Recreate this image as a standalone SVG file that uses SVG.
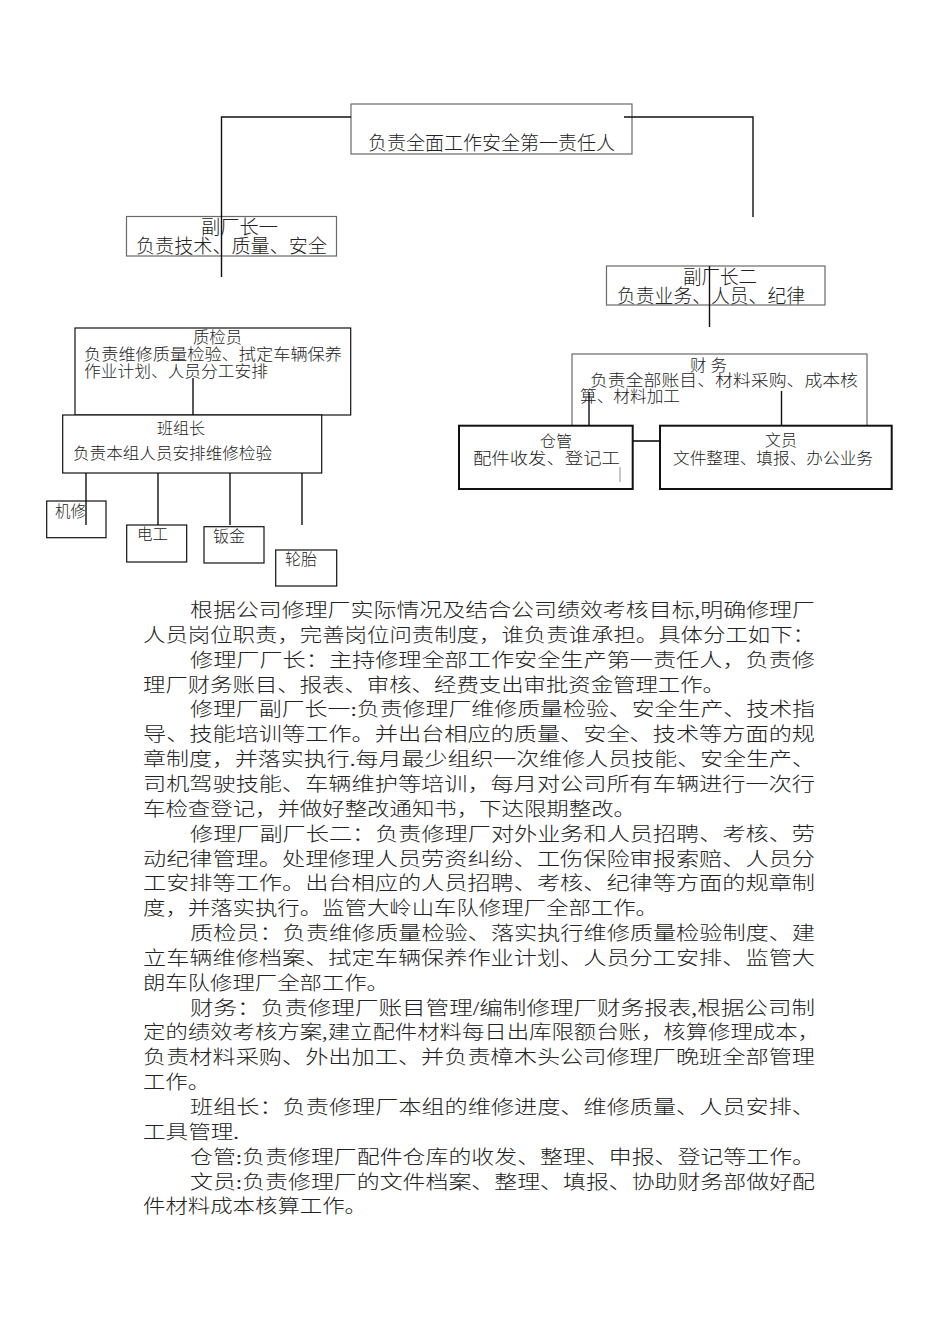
<svg xmlns="http://www.w3.org/2000/svg" width="950" height="1344" viewBox="0 0 950 1344">
<style>
text{font-family:"Liberation Serif","Noto Sans CJK SC",serif;fill:#222;font-weight:300;}
.t19{font-size:19px;}
.t16{font-size:16px;}
.p{font-size:19px;}
.bg{fill:#fff;stroke:#6a6a6a;stroke-width:1.2;}
.bk{fill:#fff;stroke:#111;stroke-width:1.2;}
.bt{fill:#fff;stroke:#111;stroke-width:2;}
.c{fill:none;stroke:#111;stroke-width:1.4;}
</style>
<rect width="950" height="1344" fill="#fff"/>
<g id="node-director">
<rect class="bg" x="351" y="104" width="281" height="50"/>
<text class="t19" x="368" y="150" textLength="247" lengthAdjust="spacingAndGlyphs">负责全面工作安全第一责任人</text>
</g>
<g id="node-deputy1">
<rect class="bg" x="126.5" y="216.5" width="210" height="39.5"/>
<text class="t19" x="201" y="234" textLength="77" lengthAdjust="spacingAndGlyphs">副厂长一</text>
<text class="t19" x="136" y="253" textLength="191" lengthAdjust="spacingAndGlyphs">负责技术、质量、安全</text>
</g>
<g id="node-deputy2">
<rect class="bg" x="606.5" y="266" width="218.5" height="39"/>
<text class="t19" x="683" y="284" textLength="74" lengthAdjust="spacingAndGlyphs">副厂长二</text>
<text class="t19" x="617" y="303" textLength="188" lengthAdjust="spacingAndGlyphs">负责业务、人员、纪律</text>
</g>
<g id="node-inspector">
<rect class="bk" x="75" y="328" width="275.7" height="87"/>
<text class="t16" x="193" y="343" textLength="49" lengthAdjust="spacingAndGlyphs">质检员</text>
<text class="t16" x="84" y="360" textLength="258" lengthAdjust="spacingAndGlyphs">负责维修质量检验、拭定车辆保养</text>
<text class="t16" x="84" y="377" textLength="184" lengthAdjust="spacingAndGlyphs">作业计划、人员分工安排</text>
</g>
<g id="node-leader">
<rect class="bk" x="62.7" y="415" width="259" height="58"/>
<text class="t16" x="157" y="434" textLength="48" lengthAdjust="spacingAndGlyphs">班组长</text>
<text class="t16" x="73" y="459" textLength="199" lengthAdjust="spacingAndGlyphs">负责本组人员安排维修检验</text>
</g>
<g id="node-jixiu">
<rect class="bk" x="46.7" y="501" width="59.3" height="36.7"/>
<text class="t16" x="55" y="517" textLength="31" lengthAdjust="spacingAndGlyphs">机修</text>
</g>
<g id="node-diangong">
<rect class="bk" x="126.7" y="525" width="60" height="37"/>
<text class="t16" x="137" y="540" textLength="31" lengthAdjust="spacingAndGlyphs">电工</text>
</g>
<g id="node-banjin">
<rect class="bk" x="204" y="526.7" width="60" height="36.3"/>
<text class="t16" x="213" y="542" textLength="32" lengthAdjust="spacingAndGlyphs">钣金</text>
</g>
<g id="node-luntai">
<rect class="bk" x="275.7" y="550" width="61" height="36"/>
<text class="t16" x="285" y="565" textLength="32" lengthAdjust="spacingAndGlyphs">轮胎</text>
</g>
<g id="node-finance">
<rect class="bg" x="572" y="354" width="295" height="87"/>
<text class="t16" x="690" y="371" textLength="37" lengthAdjust="spacingAndGlyphs">财 务</text>
<text class="t16" x="590" y="386" textLength="268" lengthAdjust="spacingAndGlyphs">负责全部账目、材料采购、成本核</text>
<text class="t16" x="580" y="402" textLength="100" lengthAdjust="spacingAndGlyphs">算、材料加工</text>
</g>
<g id="node-warehouse">
<rect class="bt" x="459" y="425.7" width="173.7" height="63.3"/>
<text class="t16" x="540" y="447" textLength="32" lengthAdjust="spacingAndGlyphs">仓管</text>
<text class="t16" x="473" y="464" textLength="147" lengthAdjust="spacingAndGlyphs">配件收发、登记工</text>
<rect x="619" y="467" width="2" height="15" fill="#c8c8c8"/>
</g>
<g id="node-clerk">
<rect class="bt" x="660" y="425.7" width="231.7" height="63.3"/>
<text class="t16" x="765" y="446" textLength="32" lengthAdjust="spacingAndGlyphs">文员</text>
<text class="t16" x="673" y="464" textLength="200" lengthAdjust="spacingAndGlyphs">文件整理、填报、办公业务</text>
</g>
<g id="connectors">
<path class="c" d="M351 117 H221.5 V277"/>
<path class="c" d="M624 117 H753 V217"/>
<path class="c" d="M709.5 266 V327"/>
<path class="c" d="M193 378 V415"/>
<path class="c" d="M86 473 V525 M158 473 V525 M230 473 V525 M302 473 V525"/>
<path class="c" d="M589 392 V425 M781.5 391 V425"/>
<path class="c" d="M633 441 H660"/>
</g>
<g id="body-text" class="p">
<text class="p" x="190" y="617" textLength="625" lengthAdjust="spacingAndGlyphs">根据公司修理厂实际情况及结合公司绩效考核目标,明确修理厂</text>
<text class="p" x="143" y="642" textLength="672" lengthAdjust="spacingAndGlyphs">人员岗位职责，完善岗位问责制度，谁负责谁承担。具体分工如下：</text>
<text class="p" x="190" y="666.7" textLength="625" lengthAdjust="spacingAndGlyphs">修理厂厂长：主持修理全部工作安全生产第一责任人，负责修</text>
<text class="p" x="143" y="691.5" textLength="582" lengthAdjust="spacingAndGlyphs">理厂财务账目、报表、审核、经费支出审批资金管理工作。</text>
<text class="p" x="190" y="716.4" textLength="625" lengthAdjust="spacingAndGlyphs">修理厂副厂长一:负责修理厂维修质量检验、安全生产、技术指</text>
<text class="p" x="143" y="741.2" textLength="672" lengthAdjust="spacingAndGlyphs">导、技能培训等工作。并出台相应的质量、安全、技术等方面的规</text>
<text class="p" x="143" y="766.1" textLength="672" lengthAdjust="spacingAndGlyphs">章制度，并落实执行.每月最少组织一次维修人员技能、安全生产、</text>
<text class="p" x="143" y="791" textLength="672" lengthAdjust="spacingAndGlyphs">司机驾驶技能、车辆维护等培训，每月对公司所有车辆进行一次行</text>
<text class="p" x="143" y="815.8" textLength="493" lengthAdjust="spacingAndGlyphs">车检查登记，并做好整改通知书，下达限期整改。</text>
<text class="p" x="190" y="840.6" textLength="625" lengthAdjust="spacingAndGlyphs">修理厂副厂长二：负责修理厂对外业务和人员招聘、考核、劳</text>
<text class="p" x="143" y="865.5" textLength="672" lengthAdjust="spacingAndGlyphs">动纪律管理。处理修理人员劳资纠纷、工伤保险审报索赔、人员分</text>
<text class="p" x="143" y="890.3" textLength="672" lengthAdjust="spacingAndGlyphs">工安排等工作。出台相应的人员招聘、考核、纪律等方面的规章制</text>
<text class="p" x="143" y="915.2" textLength="515" lengthAdjust="spacingAndGlyphs">度，并落实执行。监管大岭山车队修理厂全部工作。</text>
<text class="p" x="190" y="940" textLength="625" lengthAdjust="spacingAndGlyphs">质检员：负责维修质量检验、落实执行维修质量检验制度、建</text>
<text class="p" x="143" y="964.9" textLength="672" lengthAdjust="spacingAndGlyphs">立车辆维修档案、拭定车辆保养作业计划、人员分工安排、监管大</text>
<text class="p" x="143" y="989.7" textLength="246" lengthAdjust="spacingAndGlyphs">朗车队修理厂全部工作。</text>
<text class="p" x="190" y="1014.6" textLength="625" lengthAdjust="spacingAndGlyphs">财务：负责修理厂账目管理/编制修理厂财务报表,根据公司制</text>
<text class="p" x="143" y="1039.4" textLength="677" lengthAdjust="spacingAndGlyphs">定的绩效考核方案,建立配件材料每日出库限额台账，核算修理成本，</text>
<text class="p" x="143" y="1064.3" textLength="672" lengthAdjust="spacingAndGlyphs">负责材料采购、外出加工、并负责樟木头公司修理厂晚班全部管理</text>
<text class="p" x="143" y="1089.1" textLength="67" lengthAdjust="spacingAndGlyphs">工作。</text>
<text class="p" x="190" y="1114" textLength="625" lengthAdjust="spacingAndGlyphs">班组长：负责修理厂本组的维修进度、维修质量、人员安排、</text>
<text class="p" x="143" y="1138.8" textLength="96" lengthAdjust="spacingAndGlyphs">工具管理.</text>
<text class="p" x="190" y="1163.7" textLength="625" lengthAdjust="spacingAndGlyphs">仓管:负责修理厂配件仓库的收发、整理、申报、登记等工作。</text>
<text class="p" x="190" y="1188.5" textLength="625" lengthAdjust="spacingAndGlyphs">文员:负责修理厂的文件档案、整理、填报、协助财务部做好配</text>
<text class="p" x="143" y="1213.4" textLength="224" lengthAdjust="spacingAndGlyphs">件材料成本核算工作。</text>
</g>
</svg>
